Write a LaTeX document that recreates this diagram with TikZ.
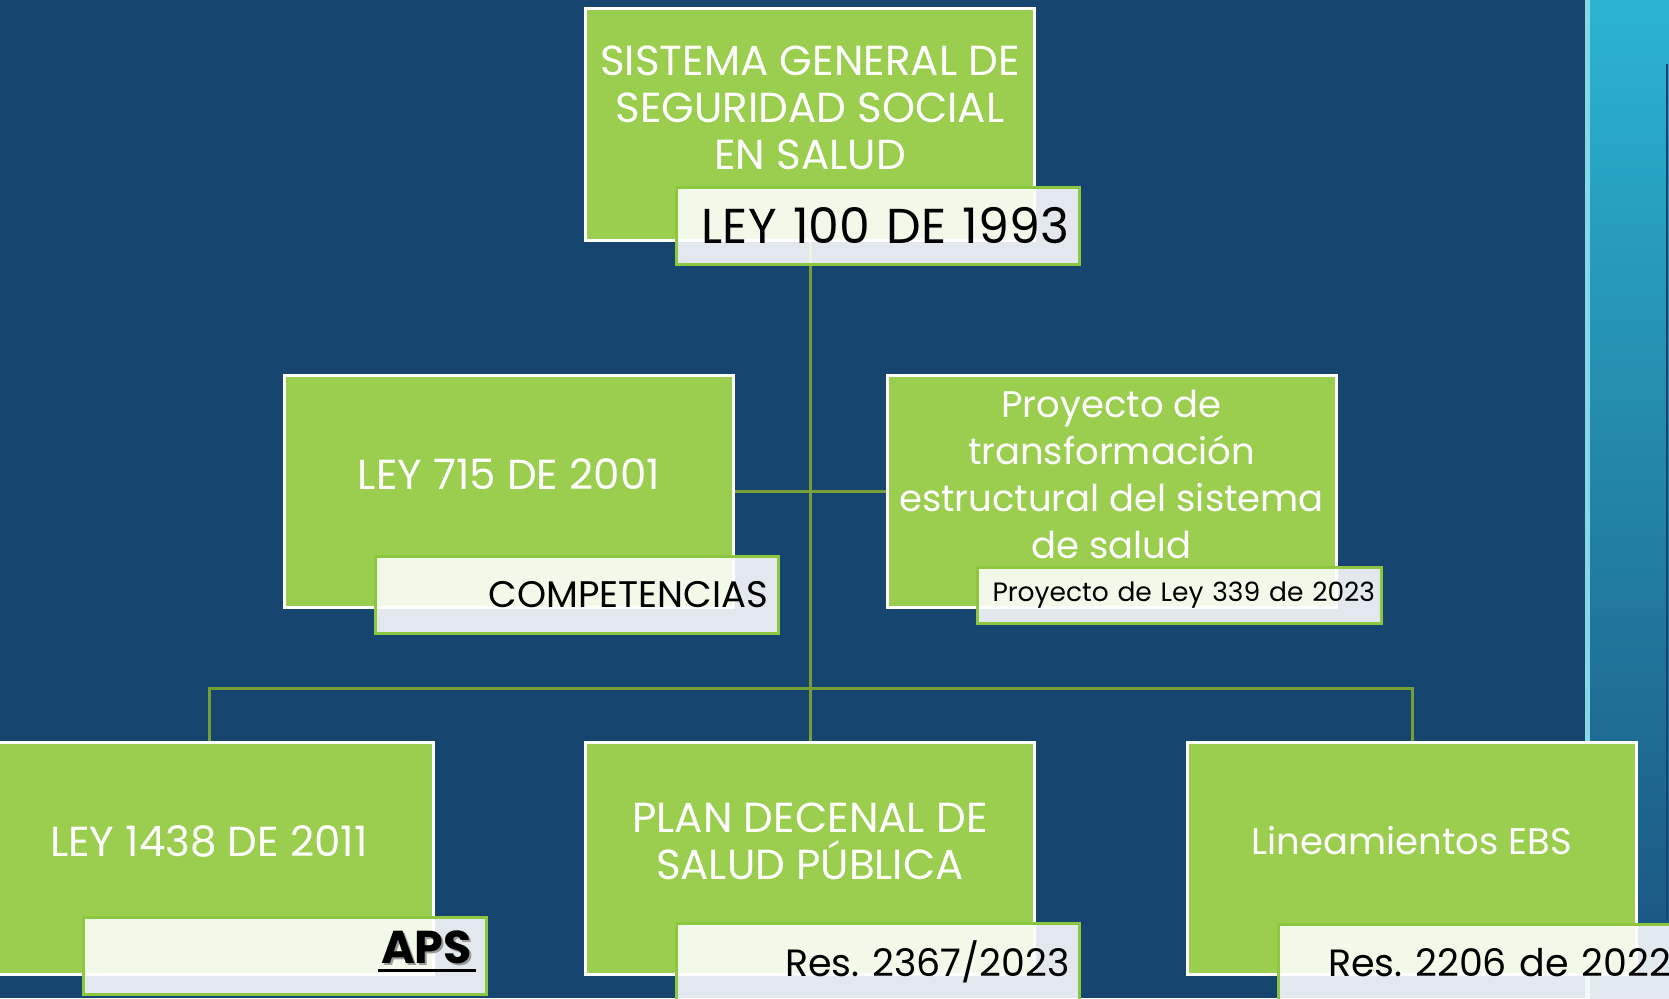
\documentclass[tikz,border=0pt]{standalone}
\usepackage{fontspec}
\setmainfont{Poppins}
\usepackage{tikz}
\usetikzlibrary{positioning, calc}
\usepackage{xcolor}

\definecolor{bgblue}{HTML}{164670}
\definecolor{boxgreen}{HTML}{9BCE4F}
\definecolor{linegreen}{HTML}{76A035}
\definecolor{labgreen}{HTML}{8DC63F}
\definecolor{panelhi}{HTML}{2BB4D1}
\definecolor{panelmid}{HTML}{279CBF}
\definecolor{panello}{HTML}{1A527E}
\definecolor{panelline}{HTML}{86D8E8}

\tikzset{
	box/.style={draw=white, line width=3pt, fill=boxgreen, minimum width=449pt, minimum height=232pt, inner sep=0pt},
	boxtext/.style={text=white, align=center, font=\fontsize{42}{47}\selectfont},
	tag/.style={draw=labgreen, line width=3pt, fill=white, fill opacity=0.88, text opacity=1, minimum width=403pt, minimum height=77pt, text width=383pt, inner xsep=10pt, inner ysep=0pt, align=right},
	conn/.style={draw=linegreen, line width=3pt}
}

\begin{document}
\frenchspacing
\begin{tikzpicture}[x=1pt, y=-1pt]
			% --- Frame ---
			\useasboundingbox (0,0) rectangle (1669,998);
			\clip (0,0) rectangle (1669,998);
			\fill[bgblue] (0,0) rectangle (1669,998);
			
			% Side panel
			\shade[top color=panelhi, middle color=panelmid, bottom color=panello] (1590,0) rectangle (1669,998);
			\fill[panelline] (1585,0) rectangle (1590,998);
			\draw[bgblue, line width=2pt] (1667,64) -- (1667,920);
			
			% --- Define Coordinates ---
			\coordinate (Top) at (810,124.5);
			\coordinate (MidL) at (509,491.5);
			\coordinate (MidR) at (1111.5,491.5);
			\coordinate (BotL) at (209,858);
			\coordinate (BotC) at (810,858);
			\coordinate (BotR) at (1412,858);
			\coordinate (Bus) at (810,688);
			
			% --- Draw Boxes ---
			\node[box] (sgsss) at (Top) {};
			\node[box] (ley715) at (MidL) {};
			\node[box] (proy) at (MidR) {};
			\node[box] (ley1438) at (BotL) {};
			\node[box] (pdsp) at (BotC) {};
			\node[box] (ebs) at (BotR) {};
			
			\node[boxtext] at ([yshift=17pt]sgsss.center) {SISTEMA GENERAL DE\\SEGURIDAD SOCIAL\\EN SALUD};
			\node[boxtext] at ([yshift=17pt]ley715.center) {LEY 715 DE 2001};
			\node[boxtext, font=\fontsize{37}{47}\selectfont] at ([yshift=17pt]proy.center) {Proyecto de\\transformación\\estructural del sistema\\de salud};
			\node[boxtext] at ([yshift=17pt]ley1438.center) {LEY 1438 DE 2011};
			\node[boxtext] at ([yshift=17pt]pdsp.center) {PLAN DECENAL DE\\SALUD PÚBLICA};
			\node[boxtext, font=\fontsize{37}{47}\selectfont] at ([yshift=17pt]ebs.center) {Lineamientos EBS};
			
			% --- Draw Connectors ---
			\draw[conn] (sgsss.south) -- (pdsp.north);
			\draw[conn] (ley715.east) -- (proy.west);
			\draw[conn] (ley1438.north) |- (Bus) -| (ebs.north);
			
			% --- Add Labels ---
			\node[tag, font=\fontsize{49}{49}\selectfont] (l100) at (877.5,225.5) {LEY 100 DE 1993};
			\node[tag, font=\fontsize{37}{37}\selectfont] (lcomp) at (576.5,594.5) {COMPETENCIAS};
			\node[tag, minimum width=404pt, minimum height=56pt, inner xsep=6pt, text width=392pt, font=\fontsize{26.5}{26.5}\selectfont] (lproy) at (1179,595) {Proyecto de Ley 339 de 2023};
			\node[tag] (laps) at (284.5,955.5) {};
			\node[tag, font=\fontsize{38}{38}\selectfont] (lres1) at (878,961.5) {Res. 2367/2023};
			\node[tag, font=\fontsize{38}{38}\selectfont] (lres2) at (1479.5,962.5) {Res. 2206 de 2022};
			
			% APS with shadow and underline
			\node[anchor=mid east, text=black!40, font=\fontsize{46}{46}\selectfont\bfseries] at ([xshift=-10pt, yshift=-7pt]laps.east) {APS};
			\node[anchor=mid east, font=\fontsize{46}{46}\selectfont\bfseries] (apst) at ([xshift=-12pt, yshift=-5pt]laps.east) {APS};
			\draw[line width=3.5pt] ([yshift=-7pt]apst.base west) -- ([yshift=-7pt]apst.base east);
			
		\end{tikzpicture}
\end{document}
